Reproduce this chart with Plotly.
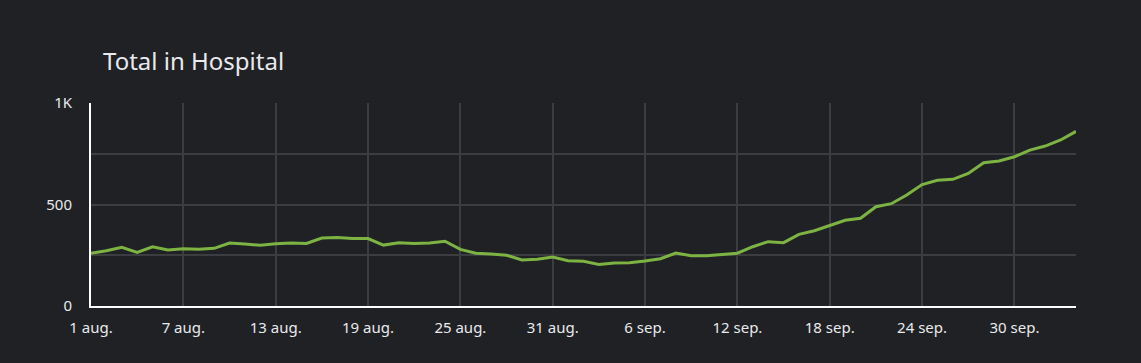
import plotly.graph_objects as go
import pandas as pd

start_date = "2020-08-01"
end_date = "2020-10-04"
dates = pd.date_range(start_date, end_date, freq="D")

in_hospital = [
    260, 272, 289, 264, 292, 276, 282, 279, 284, 310,
    305, 299, 307, 310, 308, 335, 338, 333, 332, 300,
    312, 308, 310, 319, 279, 260, 256, 250, 227, 230,
    241, 223, 220, 205, 212, 213, 222, 233, 261, 248,
    248, 253, 260, 292, 317, 312, 353, 371, 396, 422,
    432, 489, 504, 547, 598, 619, 624, 653, 706, 714,
    735, 768, 788, 818, 860,
]

x_tick_dates = pd.date_range(start_date, end_date, freq="6D")
x_tick_labels = ["1 aug.", "7 aug.", "13 aug.", "19 aug.", "25 aug.", "31 aug.",
                 "6 sep.", "12 sep.", "18 sep.", "24 sep.", "30 sep."]
y_tick_vals = [0, 250, 500, 750, 1000]
y_tick_labels = ["0", "", "500", "", "1K"]

bg = "#202124"
grid = "#3c3d41"
text = "#e8eaed"
font_family = "Noto Sans, Open Sans, sans-serif"

fig = go.Figure()
fig.add_trace(go.Scatter(
    x=dates, y=in_hospital, mode="lines",
    line=dict(color="#7cb342", width=3),
    showlegend=False, hoverinfo="skip",
))

fig.update_layout(
    width=1141, height=363,
    paper_bgcolor=bg, plot_bgcolor=bg,
    margin=dict(l=91, r=65, t=103, b=57),
    font=dict(family=font_family, color=text, size=15),
    title=dict(text="Total in Hospital", x=103 / 1141, xanchor="left",
               y=1 - 62 / 363, yanchor="middle",
               font=dict(size=24, color=text, family=font_family)),
)
fig.update_xaxes(
    range=[dates[0], dates[-1]],
    tickvals=x_tick_dates[:len(x_tick_labels)], ticktext=x_tick_labels,
    showgrid=True, gridcolor=grid, gridwidth=1.5,
    showline=True, linecolor="#ffffff", linewidth=2,
    zeroline=False, ticks="", ticklabelstandoff=7,
    tickfont=dict(size=15, color=text),
)
fig.update_yaxes(
    range=[0, 1000],
    tickvals=y_tick_vals, ticktext=y_tick_labels,
    showgrid=True, gridcolor=grid, gridwidth=1.5,
    showline=True, linecolor="#ffffff", linewidth=2,
    zeroline=False, ticks="", ticklabelstandoff=14,
    tickfont=dict(size=15, color=text),
)

fig.write_html(
    "out.html",
    config={"displayModeBar": False},
    post_script="document.body.style.margin='0';document.body.style.background='#202124';",
)
